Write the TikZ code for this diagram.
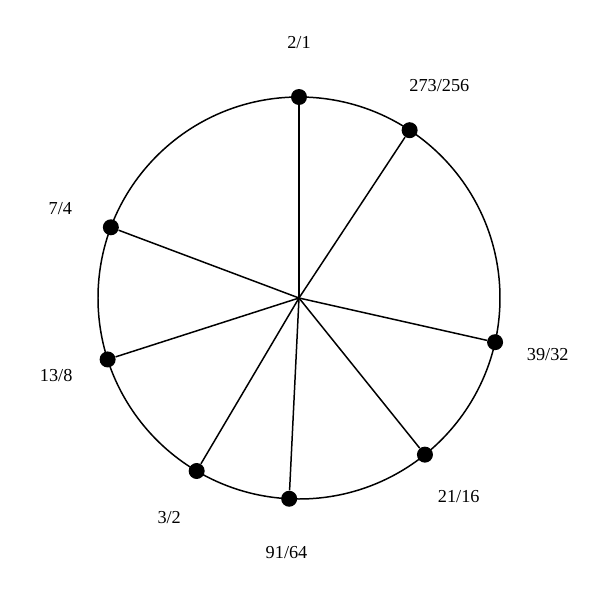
\documentclass[tikz,border=0pt]{standalone}
\usepackage{fontspec}
\setmainfont{Liberation Serif}
\begin{document}
\begin{tikzpicture}[
    dot/.style={circle,fill=black,inner sep=0pt,minimum size=0.32cm},
    ratio/.style={font=\fontsize{10.4}{12}\selectfont,inner sep=0pt}]
      \useasboundingbox (-5.98,-6.04) rectangle (6.02,5.96);
      \coordinate (c) at (0,0);
      \draw[line width=0.85pt] (c) circle (4.02);
      \draw
        (90.0:4.02) node[dot] (r1){}
        (56.6:4.02) node[dot] (r2){}
        (-12.7:4.02) node[dot] (r3){}
        (-51.2:4.02) node[dot] (r4){}
        (-92.8:4.02) node[dot] (r5){}
        (-120.6:4.02) node[dot] (r6){}
        (-162.2:4.02) node[dot] (r7){}
        (159.4:4.02) node[dot] (r8){};
      \begin{scope}[-,line width=0.85pt]
        \draw (c) to (r1);
        \draw (c) to (r2);
        \draw (c) to (r3);
        \draw (c) to (r4);
        \draw (c) to (r5);
        \draw (c) to (r6);
        \draw (c) to (r7);
        \draw (c) to (r8);
      \end{scope}
      \draw
        (90.0:5.1) node[ratio] (l1){2/1}
        (56.6:5.1) node[ratio] (l2){273/256}
        (-12.7:5.1) node[ratio] (l3){39/32}
        (-51.2:5.1) node[ratio] (l4){21/16}
        (-92.8:5.1) node[ratio] (l5){91/64}
        (-120.6:5.1) node[ratio] (l6){3/2}
        (-162.2:5.1) node[ratio] (l7){13/8}
        (159.4:5.1) node[ratio] (l8){7/4};
    \end{tikzpicture}
\end{document}
